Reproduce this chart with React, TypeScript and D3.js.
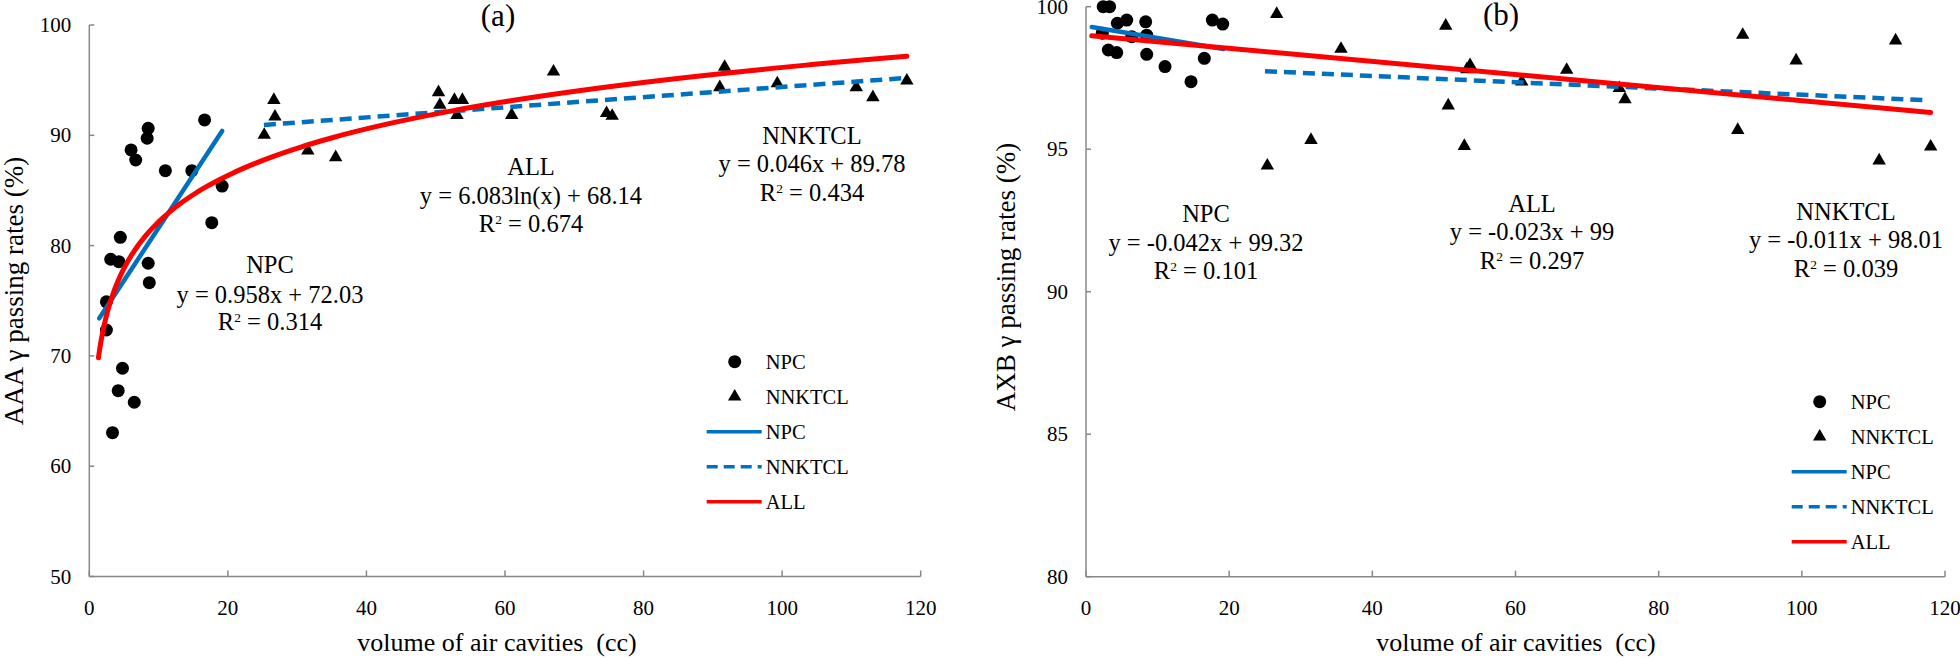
import React from 'react';
import * as d3 from 'd3';

const FONT = "'Liberation Serif','Times New Roman',Times,serif";
const BLUE = '#0070C0';
const RED = '#FF0000';
const AXIS = '#888888';

// ---------- data ----------
const xTicks = [0, 20, 40, 60, 80, 100, 120];
const yTicksA = [50, 60, 70, 80, 90, 100];
const yTicksB = [80, 85, 90, 95, 100];

const npcVolA = [2.47, 2.47, 3.09, 4.27, 4.48, 6.03, 6.7, 8.5, 8.35, 8.5, 8.66, 10.98, 14.8, 16.64, 19.17, 17.68, 4.79, 4.17, 6.49, 3.35];
const npcAAA = [74.9, 72.35, 78.76, 78.54, 80.75, 88.67, 87.76, 90.63, 89.73, 78.4, 76.64, 86.79, 86.79, 91.39, 85.4, 82.08, 68.88, 66.85, 65.8, 63.04];

const nnkVolA = [25.25, 26.64, 26.8, 31.54, 35.56, 50.4, 50.6, 52.7, 53.07, 53.85, 60.97, 67.0, 74.66, 75.47, 91.0, 91.7, 99.3, 110.7, 113.1, 118.0];
const nnkAAA = [90.03, 93.2, 91.69, 88.6, 88.0, 93.9, 92.75, 93.2, 91.84, 93.2, 91.84, 95.77, 92.0, 91.75, 94.35, 96.2, 94.7, 94.35, 93.44, 94.95];

const npcVolB = [2.4, 3.3, 2.28, 3.12, 4.29, 4.38, 5.69, 6.38, 8.34, 8.48, 8.48, 11.04, 14.67, 16.53, 17.65, 19.1];
const npcAXB = [100, 100, 99.07, 98.48, 98.39, 99.42, 99.53, 98.95, 99.47, 99.0, 98.33, 97.9, 97.37, 98.19, 99.53, 99.39];

const nnkVolB = [25.33, 26.64, 31.43, 35.62, 50.25, 50.6, 52.85, 53.2, 53.65, 60.87, 67.15, 74.5, 75.3, 91.05, 91.74, 99.2, 110.8, 113.1, 118.0];
const nnkAXB = [94.42, 99.74, 95.32, 98.52, 99.33, 96.53, 95.11, 97.8, 97.95, 97.37, 97.78, 97.14, 96.75, 95.67, 99.01, 98.11, 94.6, 98.81, 95.09];

// trend line coefficients [slope, intercept] and drawn x-ranges
const fitNpcA = [0.958, 72.03];
const fitNnkA = [0.046, 89.78];
const fitAllA = [6.083, 68.14]; // logarithmic: a*ln(x)+b
const rangeNpcA = [1.44, 19.17];
const rangeNnkA = [25.2, 118];
const rangeAllA = [1.32, 118];

const fitNpcB = [-0.042, 99.32];
const fitNnkB = [-0.011, 98.01];
const fitAllB = [-0.023, 99];
const rangeNpcB = [0.8, 19.2];
const rangeNnkB = [25.0, 117.5];
const rangeAllB = [0.8, 118];

const legendLabels = ['NPC', 'NNKTCL', 'NPC', 'NNKTCL', 'ALL'];

type Ann = { lines: [string, string, string]; x: number; y: number[] };

function linPts(fit: number[], r: number[]): [number, number][] {
  return r.map((v) => [v, fit[0] * v + fit[1]] as [number, number]);
}
function logPts(fit: number[], r: number[]): [number, number][] {
  const xs = d3.range(0, 301).map((i) => r[0] * Math.pow(r[1] / r[0], i / 300));
  return xs.map((v) => [v, fit[0] * Math.log(v) + fit[1]] as [number, number]);
}

function RText({ text, x, y, size }: { text: string; x: number; y: number; size: number }) {
  // renders "R2 = ..." with superscript 2
  const rest = text.replace(/^R2/, '');
  return (
    <text x={x} y={y} textAnchor="middle" fontFamily={FONT} fontSize={size} fill="#000">
      R
      <tspan fontSize={size * 0.55} dy={-size * 0.33}>2</tspan>
      <tspan dy={size * 0.33}>{rest}</tspan>
    </text>
  );
}

function Panel(props: {
  xr: [number, number];
  yr: [number, number];
  ydom: [number, number];
  yTicks: number[];
  npcX: number[]; npcY: number[];
  nnkX: number[]; nnkY: number[];
  npcLine: [number, number][]; nnkLine: [number, number][]; allLine: [number, number][];
  ylabel: string; ylabelX: number; ylabelY: number;
  xlabelX: number;
  panel: string; panelX: number; panelY: number;
  anns: Ann[];
  legX: number; legY: number;
}) {
  const x = d3.scaleLinear().domain([0, 120]).range(props.xr);
  const y = d3.scaleLinear().domain(props.ydom).range(props.yr);
  const line = d3.line<[number, number]>().x((d) => x(d[0])).y((d) => y(d[1]));
  const tri = d3.symbol().type(d3.symbolTriangle).size(78)();
  const x0 = props.xr[0];
  const yb = props.yr[0];
  const yt = props.yr[1];
  const lx = props.legX;
  const ly = props.legY;
  const step = 35;
  return (
    <g>
      {/* axes */}
      <line x1={x0} x2={x0} y1={yt} y2={yb} stroke={AXIS} strokeWidth={1.5} />
      <line x1={x0} x2={props.xr[1]} y1={yb} y2={yb} stroke={AXIS} strokeWidth={1.5} />
      {props.yTicks.map((t) => (
        <g key={'yt' + t}>
          <line x1={x0} x2={x0 + 5} y1={y(t)} y2={y(t)} stroke={AXIS} strokeWidth={1.5} />
          <text x={x0 - 18} y={y(t) + 7} textAnchor="end" fontFamily={FONT} fontSize={21}>{t}</text>
        </g>
      ))}
      {xTicks.map((t) => (
        <g key={'xt' + t}>
          <line x1={x(t)} x2={x(t)} y1={yb} y2={yb - 6} stroke={AXIS} strokeWidth={1.5} />
          <text x={x(t)} y={615} textAnchor="middle" fontFamily={FONT} fontSize={21}>{t}</text>
        </g>
      ))}
      <text x={props.xlabelX} y={651} textAnchor="middle" fontFamily={FONT} fontSize={26} xmlSpace="preserve">
        {'volume of air cavities  (cc)'}
      </text>
      <text
        transform={`translate(${props.ylabelX},${props.ylabelY}) rotate(-90)`}
        textAnchor="middle" fontFamily={FONT} fontSize={27}
      >
        {props.ylabel}
      </text>
      <text x={props.panelX} y={props.panelY} textAnchor="middle" fontFamily={FONT} fontSize={31}>{props.panel}</text>

      {/* points */}
      {props.npcX.map((v, i) => (
        <circle key={'c' + i} cx={x(v)} cy={y(props.npcY[i])} r={6.5} fill="#000" />
      ))}
      {props.nnkX.map((v, i) => (
        <path key={'t' + i} d={tri || ''} transform={`translate(${x(v)},${y(props.nnkY[i])})`} fill="#000" />
      ))}

      {/* trend lines */}
      <path d={line(props.npcLine) || ''} fill="none" stroke={BLUE} strokeWidth={4.5} strokeLinecap="round" />
      <path d={line(props.nnkLine) || ''} fill="none" stroke={BLUE} strokeWidth={4.5} strokeDasharray="12 7" />
      <path d={line(props.allLine) || ''} fill="none" stroke={RED} strokeWidth={5} strokeLinecap="round" />

      {/* annotations */}
      {props.anns.map((a, i) => (
        <g key={'a' + i}>
          <text x={a.x} y={a.y[0]} textAnchor="middle" fontFamily={FONT} fontSize={24.5}>{a.lines[0]}</text>
          <text x={a.x} y={a.y[1]} textAnchor="middle" fontFamily={FONT} fontSize={24.5} xmlSpace="preserve">{a.lines[1]}</text>
          <RText text={a.lines[2]} x={a.x} y={a.y[2]} size={24.5} />
        </g>
      ))}

      {/* legend */}
      <circle cx={lx + 28} cy={ly} r={6.5} fill="#000" />
      <path d={tri || ''} transform={`translate(${lx + 28},${ly + step})`} fill="#000" />
      <line x1={lx} x2={lx + 55} y1={ly + step * 2} y2={ly + step * 2} stroke={BLUE} strokeWidth={3.5} />
      <line x1={lx} x2={lx + 55} y1={ly + step * 3} y2={ly + step * 3} stroke={BLUE} strokeWidth={3.5} strokeDasharray="11 6" />
      <line x1={lx} x2={lx + 55} y1={ly + step * 4} y2={ly + step * 4} stroke={RED} strokeWidth={3.5} />
      {legendLabels.map((l, i) => (
        <text key={'l' + i} x={lx + 59} y={ly + step * i + 7} fontFamily={FONT} fontSize={20.5}>{l}</text>
      ))}
    </g>
  );
}

export default function App() {
  return (
    <svg
      width={1960}
      height={659}
      viewBox="0 0 1960 659"
      style={{ position: 'absolute', left: 0, top: 0, display: 'block', background: '#fff' }}
    >
      <rect x={0} y={0} width={1960} height={659} fill="#fff" />
      <Panel
        xr={[89.3, 920.7]}
        yr={[576.5, 25]}
        ydom={[50, 100]}
        yTicks={yTicksA}
        npcX={npcVolA} npcY={npcAAA}
        nnkX={nnkVolA} nnkY={nnkAAA}
        npcLine={linPts(fitNpcA, rangeNpcA)}
        nnkLine={linPts(fitNnkA, rangeNnkA)}
        allLine={logPts(fitAllA, rangeAllA)}
        ylabel="AAA γ passing rates (%)" ylabelX={23} ylabelY={291}
        xlabelX={497}
        panel="(a)" panelX={498} panelY={26}
        anns={[
          { lines: ['NPC', 'y = 0.958x + 72.03', 'R2 = 0.314'], x: 270, y: [272.5, 302.5, 330] },
          { lines: ['ALL', 'y = 6.083ln(x) + 68.14', 'R2 = 0.674'], x: 531, y: [174.5, 204, 232] },
          { lines: ['NNKTCL', 'y = 0.046x + 89.78', 'R2 = 0.434'], x: 812, y: [143.5, 172, 201] },
        ]}
        legX={706.7} legY={361.7}
      />
      <Panel
        xr={[1086, 1945]}
        yr={[576.7, 6.7]}
        ydom={[80, 100]}
        yTicks={yTicksB}
        npcX={npcVolB} npcY={npcAXB}
        nnkX={nnkVolB} nnkY={nnkAXB}
        npcLine={linPts(fitNpcB, rangeNpcB)}
        nnkLine={linPts(fitNnkB, rangeNnkB)}
        allLine={linPts(fitAllB, rangeAllB)}
        ylabel="AXB γ passing rates (%)" ylabelX={1015} ylabelY={277}
        xlabelX={1516}
        panel="(b)" panelX={1501} panelY={25}
        anns={[
          { lines: ['NPC', 'y = -0.042x + 99.32', 'R2 = 0.101'], x: 1206, y: [222, 251, 279] },
          { lines: ['ALL', 'y = -0.023x + 99', 'R2 = 0.297'], x: 1532, y: [211.5, 240, 269] },
          { lines: ['NNKTCL', 'y = -0.011x + 98.01', 'R2 = 0.039'], x: 1846, y: [220, 248, 277] },
        ]}
        legX={1791.7} legY={401.7}
      />
    </svg>
  );
}
